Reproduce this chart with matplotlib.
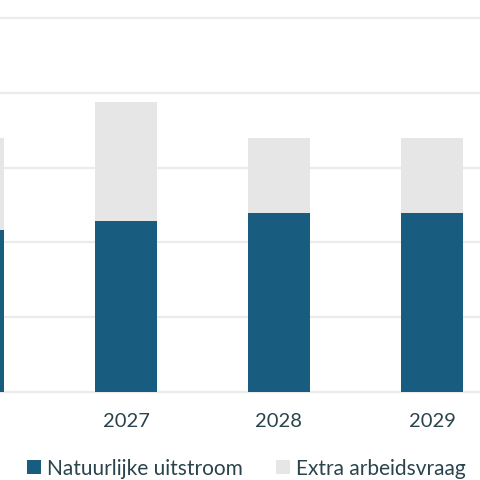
import matplotlib
matplotlib.use("Agg")
import matplotlib.pyplot as plt
from matplotlib.patches import Patch

# Data (one grid step = 1 unit)
years = ["2026", "2027", "2028", "2029"]
natuurlijke_uitstroom = [2.17, 2.28, 2.39, 2.39]
extra_arbeidsvraag = [1.22, 1.60, 1.00, 1.00]

dark_blue = "#185d7f"
light_grey = "#e6e6e6"
text_color = "#2b434c"

plt.rcParams['font.family'] = ['Lato', 'DejaVu Sans']

fig = plt.figure(figsize=(4.8, 4.8), dpi=100)
# axes bottom at pixel 400, top at pixel 10
ax = fig.add_axes([0, 80 / 480, 1, 390 / 480])

x = list(range(len(years)))
ax.bar(x, natuurlijke_uitstroom, width=0.405, color=dark_blue, zorder=2)
ax.bar(x, extra_arbeidsvraag, width=0.405, bottom=natuurlijke_uitstroom,
       color=light_grey, zorder=2)

ax.set_xticks(x)
ax.set_xticklabels(years)
ax.set_yticks([0, 1, 2, 3, 4, 5])
# limits after the ticks, so the ticks don't widen them again
ax.set_xlim(1 - 126 / 153, 1 + 354 / 153)
ax.set_ylim(-8 / 74.8, 382 / 74.8)
ax.yaxis.grid(True, color="#ebebeb", linewidth=1.6, zorder=0)
ax.set_axisbelow(True)
ax.tick_params(axis='y', left=False, labelleft=False)
ax.tick_params(axis='x', bottom=False, pad=6, labelsize=14.5, labelcolor=text_color)
for s in ax.spines.values():
    s.set_visible(False)

handles = [Patch(facecolor=dark_blue, label="Natuurlijke uitstroom"),
           Patch(facecolor=light_grey, label="Extra arbeidsvraag")]
fig.legend(handles=handles, loc="lower center", bbox_to_anchor=(0.514, -0.036),
           ncol=2, frameon=False, fontsize=15, labelcolor=text_color,
           handlelength=0.65, handleheight=0.65, handletextpad=0.3,
           columnspacing=1.6)

fig.savefig("out.png", dpi=100)
